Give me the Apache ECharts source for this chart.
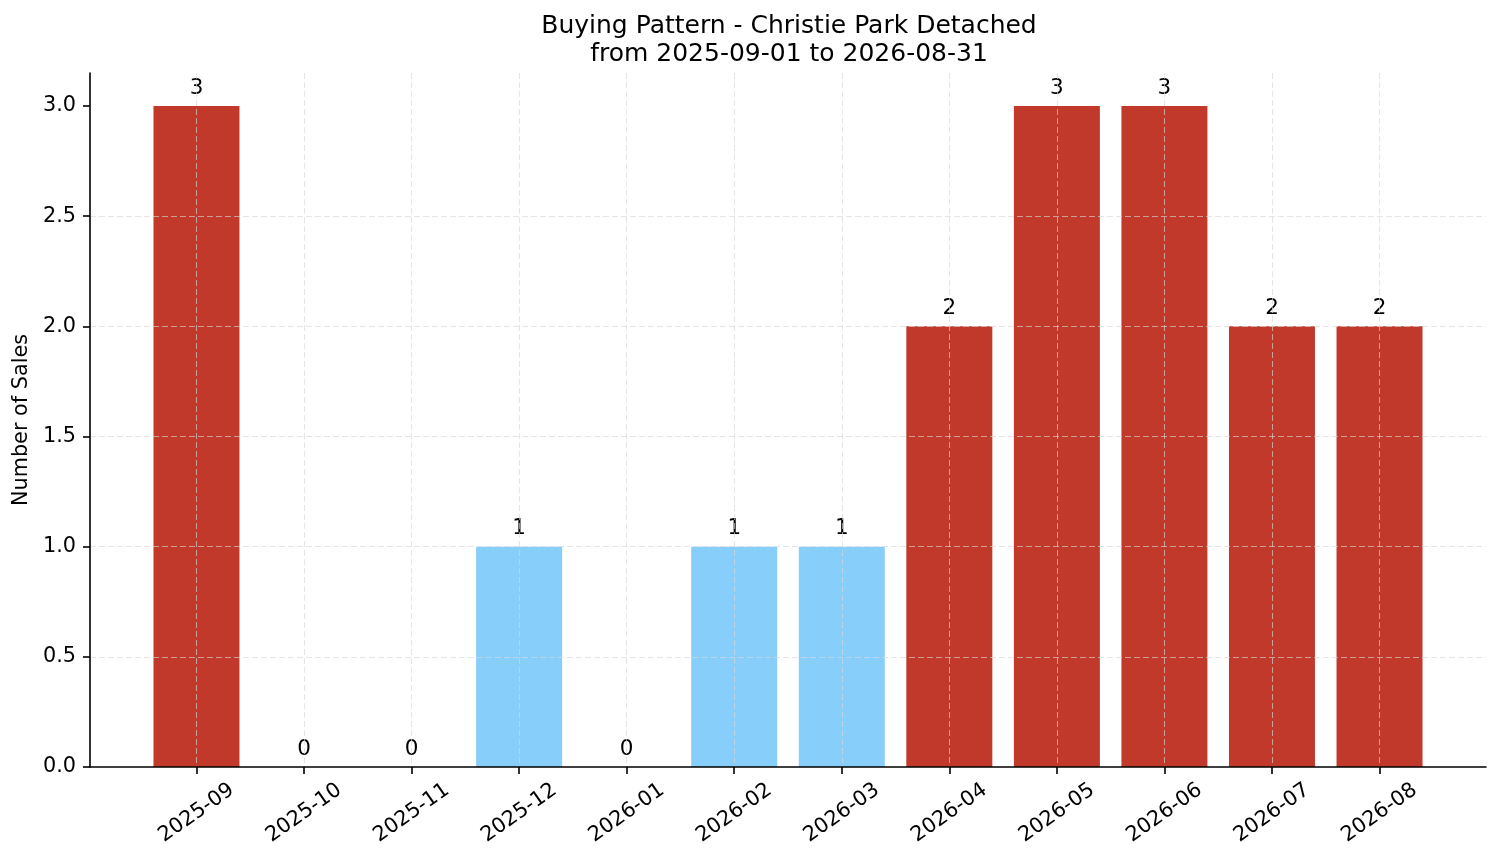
<!DOCTYPE html>
<html>
<head>
<meta charset="utf-8">
<title>Buying Pattern - Christie Park Detached</title>
<script src="https://cdn.jsdelivr.net/npm/echarts@6/dist/echarts.min.js"></script>
<style>
  html, body { margin: 0; padding: 0; background: #fff; }
  #chart { width: 1501px; height: 863px; }
</style>
</head>
<body>
<div id="chart"></div>
<script>
// monthly sales
var months = ['2025-09', '2025-10', '2025-11', '2025-12', '2026-01', '2026-02',
              '2026-03', '2026-04', '2026-05', '2026-06', '2026-07', '2026-08'];
var sales = [3, 0, 0, 1, 0, 1, 1, 2, 3, 3, 2, 2];
var yTicks = [0, 0.5, 1, 1.5, 2, 2.5, 3];

var hotColor = '#c0392b';   // above average month
var coolColor = '#87cefa';  // below average month

var mean = sales.reduce(function (a, b) { return a + b; }, 0) / sales.length;
var positions = months.map(function (m, i) { return i; });

var barData = sales.map(function (v, i) {
    return {
        value: [i, v],
        itemStyle: { color: v > mean ? hotColor : coolColor }
    };
});

var font = 'DejaVu Sans';
var gridLine = { show: true, lineStyle: { color: 'rgba(215,215,215,0.65)', width: 1, type: [6, 3] } };

var chart = echarts.init(document.getElementById('chart'));
var option = {
    backgroundColor: '#fff',
    animation: false,
    title: {
        text: 'Buying Pattern - Christie Park Detached\nfrom 2025-09-01 to 2026-08-31',
        left: 784,
        top: 7,
        textAlign: 'center',
        textStyle: { fontFamily: font, fontSize: 25, fontWeight: 'normal', color: '#000', lineHeight: 28 }
    },
    grid: { left: 90, right: 15, top: 73, bottom: 96, containLabel: false },
    xAxis: {
        type: 'value',
        min: -0.99,
        max: 11.99,
        z: 3,
        axisLine: { show: true, onZero: false, lineStyle: { color: '#000', width: 1.6 } },
        axisTick: { show: true, length: 7, customValues: positions, lineStyle: { color: '#000', width: 1.6 } },
        axisLabel: {
            customValues: positions,
            rotate: 35,
            align: 'center',
            verticalAlign: 'middle',
            margin: 46,
            fontFamily: font,
            fontSize: 20.8,
            color: '#000',
            formatter: function (v) { return months[Math.round(v)] || ''; }
        },
        splitLine: gridLine
    },
    yAxis: {
        type: 'value',
        min: 0,
        max: 3.15,
        z: 3,
        name: 'Number of Sales',
        nameLocation: 'middle',
        nameGap: 57,
        nameTextStyle: { fontFamily: font, fontSize: 20.8, color: '#000' },
        axisLine: { show: true, onZero: false, lineStyle: { color: '#000', width: 1.6 } },
        axisTick: { show: true, length: 7, customValues: yTicks, lineStyle: { color: '#000', width: 1.6 } },
        axisLabel: {
            customValues: yTicks,
            margin: 14,
            fontFamily: font,
            fontSize: 20.8,
            color: '#000',
            formatter: function (v) { return v.toFixed(1); }
        },
        splitLine: Object.assign({ showMinLine: false, showMaxLine: false }, gridLine)
    },
    series: [
        {
            type: 'bar',
            data: barData,
            barWidth: 86,
            label: {
                show: true,
                position: 'top',
                distance: 7,
                fontFamily: font,
                fontSize: 21.5,
                color: '#000',
                formatter: function (p) { return p.value[1]; }
            }
        }
    ]
};
chart.setOption(option);
</script>
</body>
</html>
